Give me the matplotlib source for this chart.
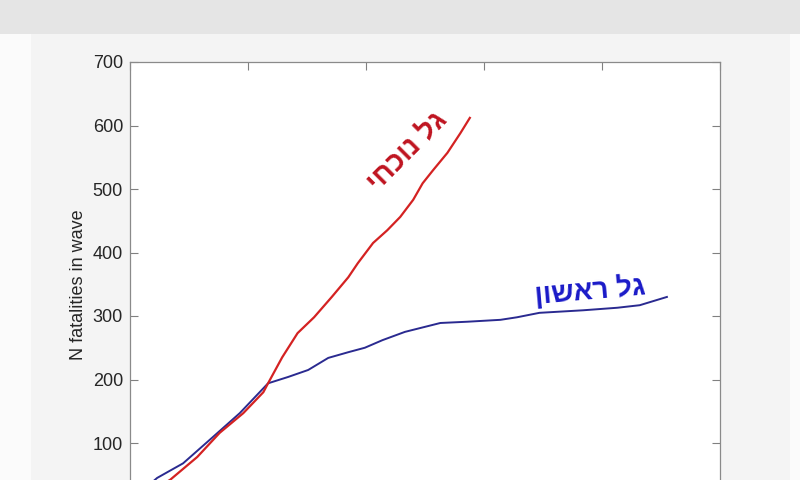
import matplotlib
matplotlib.use('Agg')
import matplotlib.pyplot as plt
from matplotlib.patches import Rectangle

plt.rcParams['font.family'] = ['Liberation Sans', 'DejaVu Sans']

# ערכים שנקראו מהגרף (ימים מתחילת הגל, מספר נפטרים)
first_days = [0, 2.3, 4.5, 7.0, 9.3, 11.7, 13.4, 15.1, 16.8, 18.5, 19.9, 21.4, 23.3,
              26.3, 28.6, 31.4, 32.8, 34.7, 38.4, 41.3, 43.2, 45.5]
first_deaths = [8, 45, 68, 109, 147, 194, 204, 215, 234, 243, 250, 262, 275,
                289, 291, 294, 298, 305, 309, 313, 317, 330]

current_days = [0, 3.4, 5.7, 7.6, 9.6, 11.3, 11.7, 12.9, 14.2, 15.6, 17.1, 18.5,
                19.3, 20.6, 21.8, 22.9, 24.0, 24.8, 25.7, 26.9, 28.0, 28.8]
current_deaths = [5, 42, 78, 116, 147, 180, 194, 235, 273, 298, 330, 361,
                  383, 415, 435, 456, 483, 509, 530, 557, 588, 612]

first_label = 'גל ראשון'
current_label = 'גל נוכחי'

fig = plt.figure(figsize=(8, 4.8), dpi=100)
fig.patch.set_facecolor('#fbfbfb')

# רקע: פס אפור עליון ולוח החלון
fig.add_artist(Rectangle((0, 1 - 34 / 480), 1, 34 / 480, transform=fig.transFigure,
                         facecolor='#e5e5e5', edgecolor='none', zorder=0))
fig.add_artist(Rectangle((31 / 800, 0), (790 - 31) / 800, (480 - 34) / 480,
                         transform=fig.transFigure, facecolor='#f4f4f4',
                         edgecolor='none', zorder=0))

ax = fig.add_axes([130 / 800, 1 - 506.5 / 480, 590 / 800, (506.5 - 62) / 480])
ax.plot(first_days, first_deaths, color='#2a2a90', lw=1.4)
ax.plot(current_days, current_deaths, color='#d42222', lw=1.6)

ax.set_xlim(0, 50)
ax.set_ylim(0, 700)
ax.set_xticks(range(0, 51, 10))
ax.set_yticks(range(100, 701, 100))
ax.tick_params(direction='in', length=6, top=True, right=True, labelbottom=False,
               labelsize=13, colors='#808080', labelcolor='#262626', width=0.8, pad=5)
for s in ax.spines.values():
    s.set_color('#8a8a8a')
    s.set_linewidth(0.9)
ax.set_ylabel('N fatalities in wave', fontsize=13, color='#262626')
ax.yaxis.set_label_coords(-0.073, 0.5)

# matplotlib לא הופך כיוון לעברית, לכן הופכים את המחרוזת
ax.text(39.0, 338, first_label[::-1], color='#1a1ac8', fontsize=20,
        fontweight='bold', rotation=5, ha='center', va='center')
ax.text(23.6, 558, current_label[::-1], color='#bf1420', fontsize=20,
        fontweight='bold', rotation=45, ha='center', va='center',
        rotation_mode='anchor')

fig.savefig('out.png', dpi=100, facecolor=fig.get_facecolor())
